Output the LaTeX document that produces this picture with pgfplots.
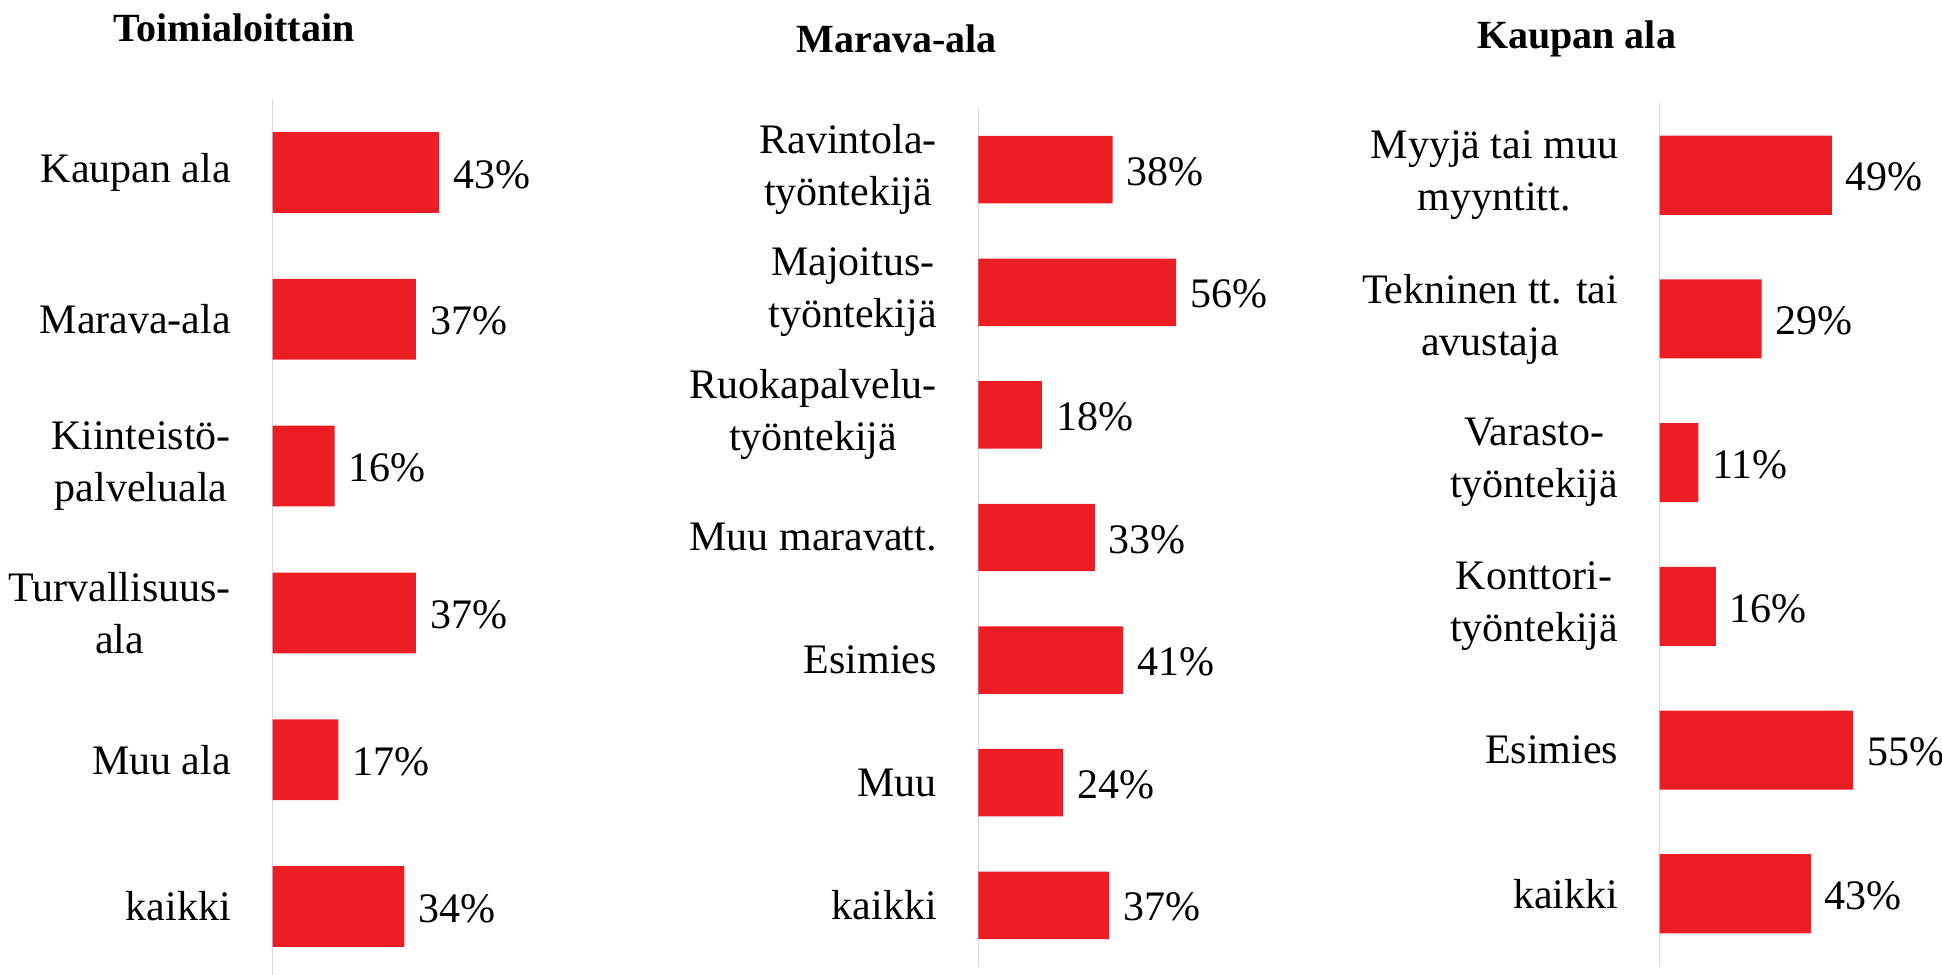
\documentclass[border=0pt]{standalone}
\usepackage{fontspec}
\setmainfont{Liberation Serif}
\usepackage{pgfplots}
\pgfplotsset{compat=1.18}
\definecolor{barred}{RGB}{237,29,36}
\definecolor{axgrey}{RGB}{217,217,217}
\pgfplotsset{
  hbar/.style={
    xbar, scale only axis, clip=false,
    xmin=0, xmax=60,
    y dir=reverse,
    axis x line=none,
    axis y line*=left,
    y axis line style={draw=axgrey, line width=0.8pt},
    ytick=data,
    ytick style={draw=none},
    bar width=0.55,
    yticklabel style={font=\fontsize{21}{26}\selectfont, align=center, xshift=-13pt},
    nodes near coords, point meta=explicit symbolic,
    every node near coord/.append style={font=\fontsize{21}{26}\selectfont, text=black, anchor=west, yshift=-1pt, xshift=3.5pt},
  }
}
\begin{document}
\begin{tikzpicture}
\useasboundingbox (0,0) rectangle (971pt,487pt);
% Panel 1
\begin{axis}[hbar, at={(136.25pt,437.5pt)}, anchor=north west,
  width=116.3pt, height=440.5pt, ymin=-0.5, ymax=5.5,
  yticklabels={Kaupan ala, Marava-ala, {Kiinteistö-\\palveluala}, {Turvallisuus-\\ala}, Muu ala, kaikki}]
\addplot[fill=barred, draw=none] coordinates {(43,0) [43\%] (37,1) [37\%] (16,2) [16\%] (37,3) [37\%] (17,4) [17\%] (34,5) [34\%]};
\end{axis}
% Panel 2
\begin{axis}[hbar, at={(489.2pt,432.8pt)}, anchor=north west,
  width=105.9pt, height=429.1pt, ymin=-0.5, ymax=6.5,
  yticklabels={{Ravintola-\\työntekijä}, {Majoitus-\\työntekijä}, {Ruokapalvelu-\\työntekijä}, Muu maravatt., Esimies, Muu, kaikki}]
\addplot[fill=barred, draw=none] coordinates {(38,0) [38\%] (56,1) [56\%] (18,2) [18\%] (33,3) [33\%] (41,4) [41\%] (24,5) [24\%] (37,6) [37\%]};
\end{axis}
% Panel 3
\begin{axis}[hbar, at={(829.8pt,435.3pt)}, anchor=north west,
  width=105.5pt, height=431.1pt, ymin=-0.5, ymax=5.5,
  yticklabels={{Myyjä tai muu\\myyntitt.}, {Tekninen tt. tai\\avustaja}, {Varasto-\\työntekijä}, {Konttori-\\työntekijä}, Esimies, kaikki}]
\addplot[fill=barred, draw=none] coordinates {(49,0) [49\%] (29,1) [29\%] (11,2) [11\%] (16,3) [16\%] (55,4) [55\%] (43,5) [43\%]};
\end{axis}
\node[font=\bfseries\fontsize{20}{24}\selectfont] at (117pt,473pt) {Toimialoittain};
\node[font=\bfseries\fontsize{20}{24}\selectfont] at (448.3pt,467.8pt) {Marava-ala};
\node[font=\bfseries\fontsize{20}{24}\selectfont] at (788.3pt,467.8pt) {Kaupan ala};
\end{tikzpicture}
\end{document}
